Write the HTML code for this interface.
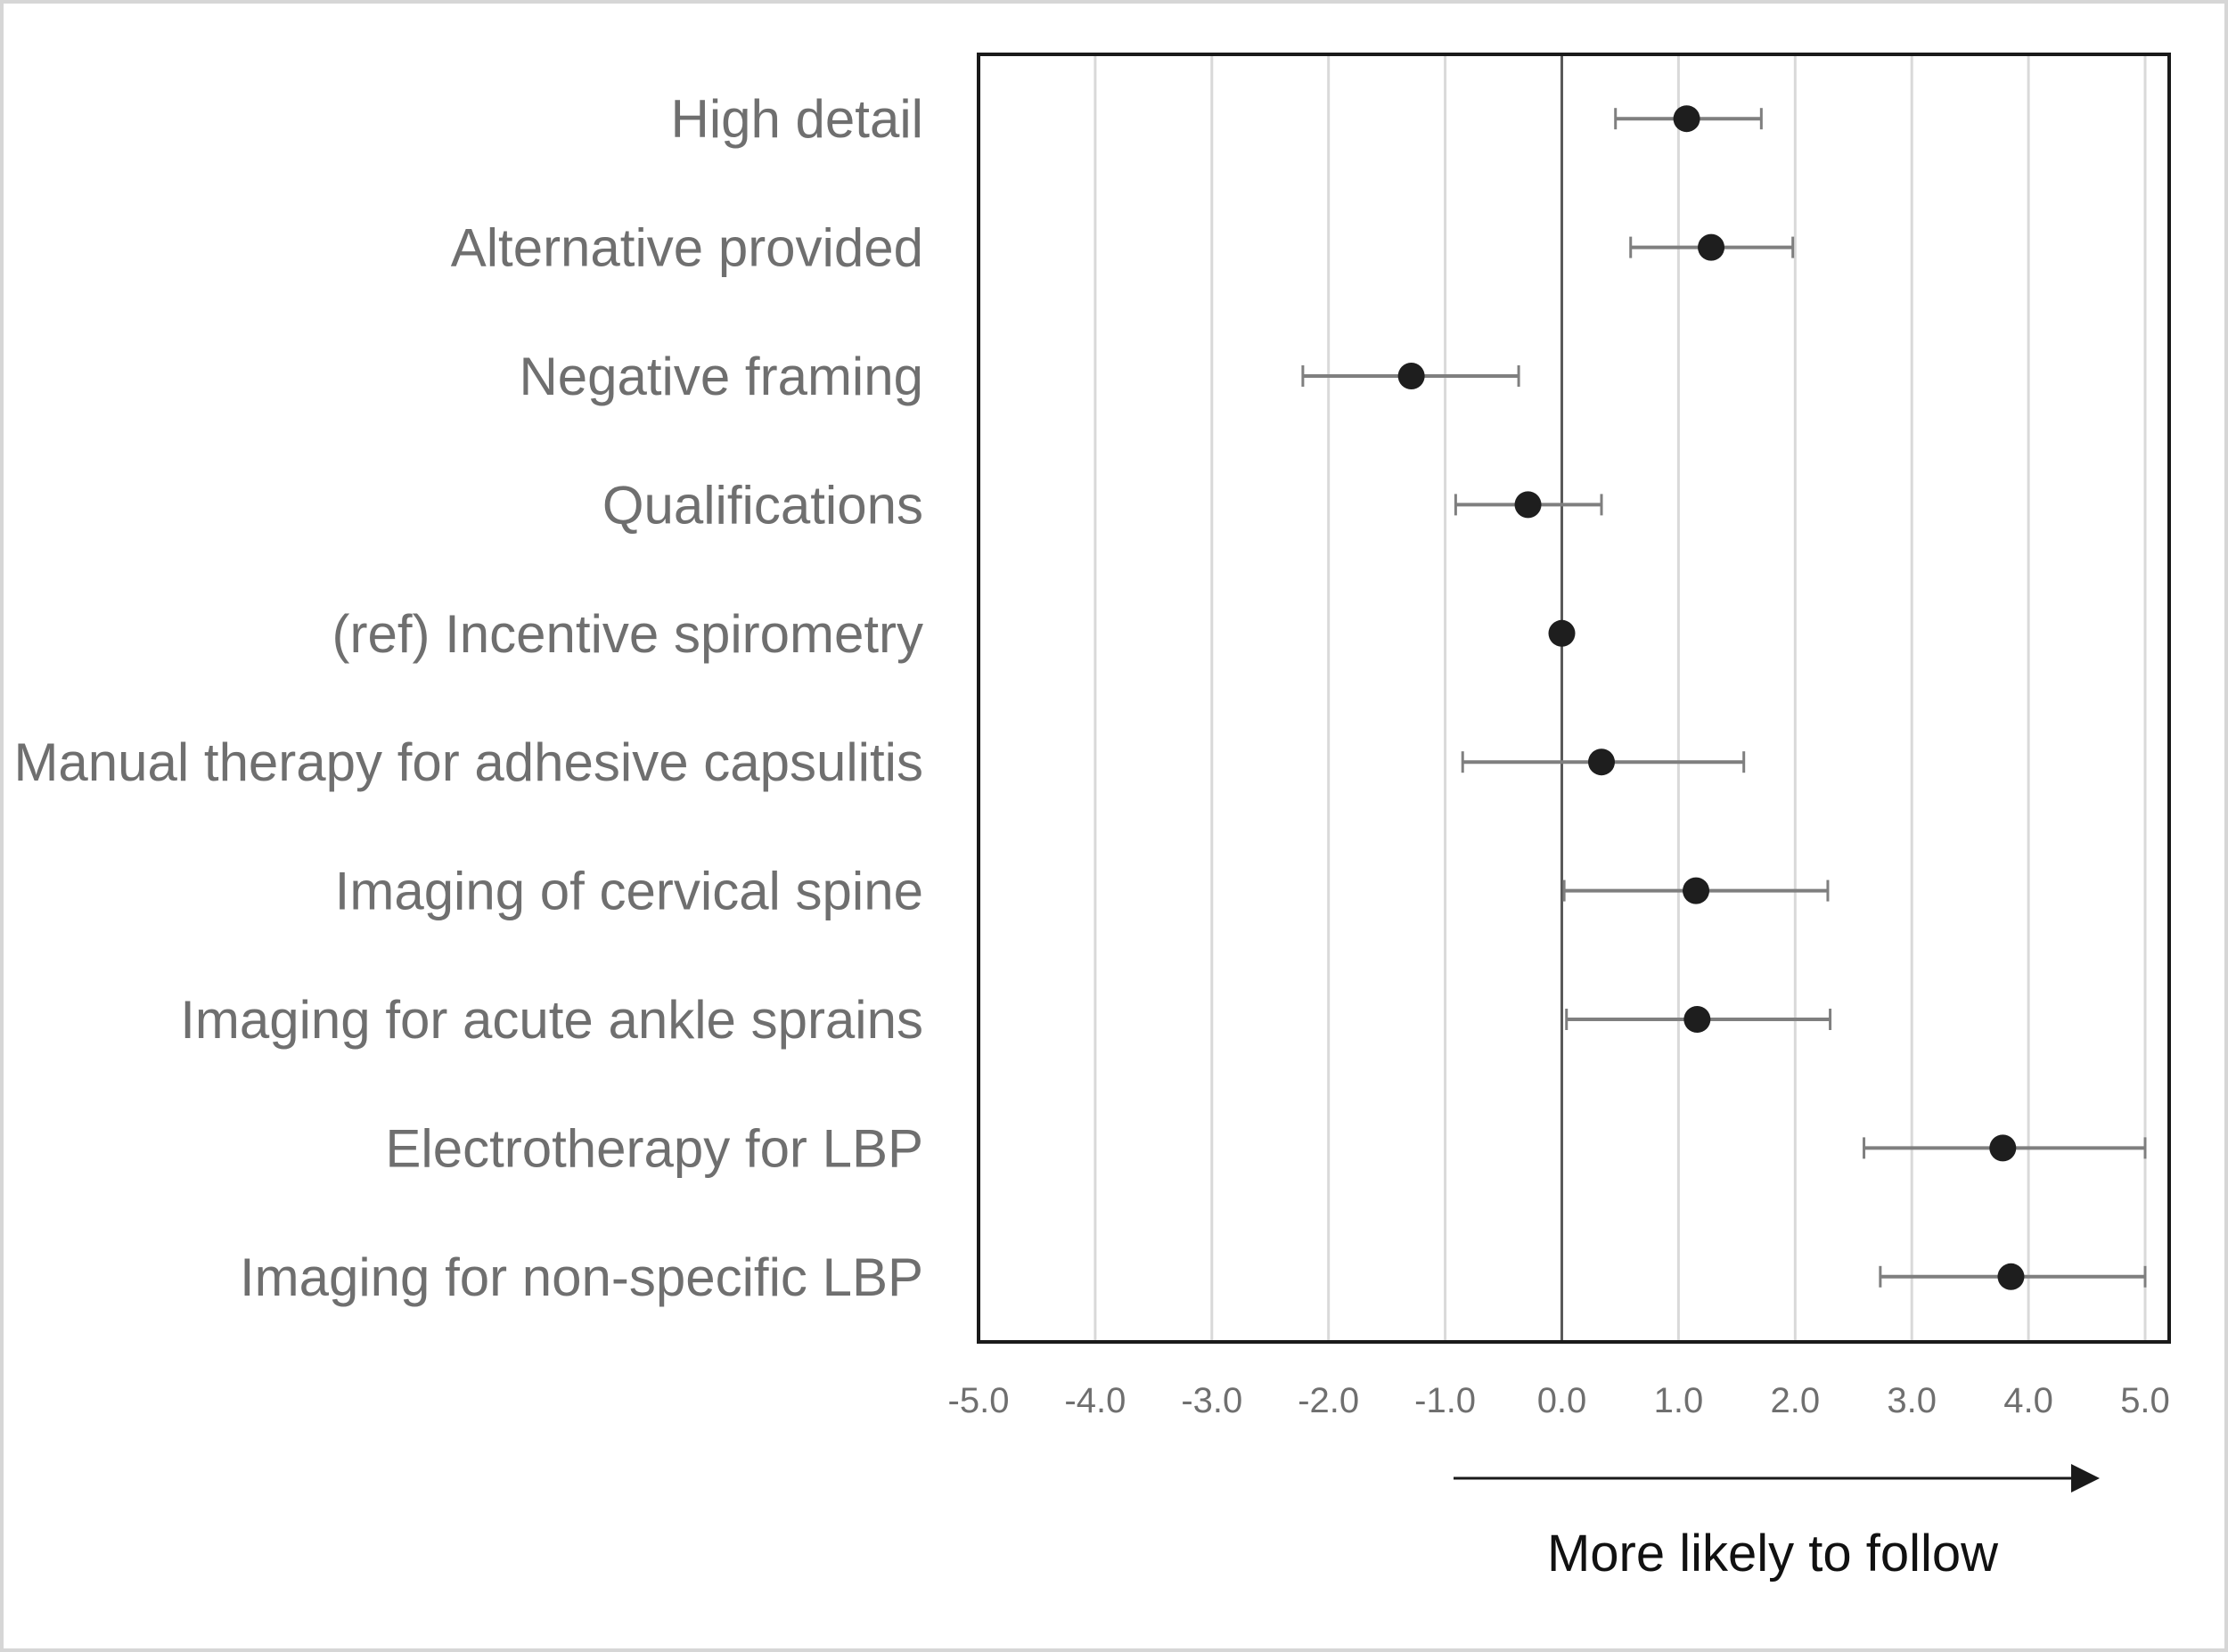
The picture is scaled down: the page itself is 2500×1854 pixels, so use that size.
<!DOCTYPE html>
<html><head><meta charset="utf-8"><style>
html,body{margin:0;padding:0;background:#fff;}
svg{display:block;}
</style></head><body>
<svg id="chart" width="2500" height="1854" xmlns="http://www.w3.org/2000/svg">
<rect x="2" y="2" width="2496" height="1850" fill="#fff" stroke="#d6d6d6" stroke-width="4"/>
<g id="grid"></g>
<g id="bars"></g>
<rect x="1098" y="61" width="1336" height="1445" fill="none" stroke="#1a1a1a" stroke-width="4"/>
<g id="labels"></g>
<g id="ticks"></g>
<line x1="1631" y1="1659" x2="2326" y2="1659" stroke="#1a1a1a" stroke-width="3"/>
<polygon points="2324,1643 2356,1659 2324,1675" fill="#1a1a1a"/>
<text x="1989" y="1763" font-family="'Liberation Sans', sans-serif" font-size="58" fill="#111" text-anchor="middle">More likely to follow</text>
</svg>
<script>
const categories = ["High detail","Alternative provided","Negative framing","Qualifications","(ref) Incentive spirometry","Manual therapy for adhesive capsulitis","Imaging of cervical spine","Imaging for acute ankle sprains","Electrotherapy for LBP","Imaging for non-specific LBP"];
const estimates = [1.07,1.28,-1.29,-0.29,0,0.34,1.15,1.16,3.78,3.85];
const lower = [0.46,0.59,-2.22,-0.91,null,-0.85,0.02,0.04,2.59,2.73];
const upper = [1.71,1.98,-0.37,0.34,null,1.56,2.28,2.30,5.0,5.0];
const tickValues = [-5,-4,-3,-2,-1,0,1,2,3,4,5];
const tickLabels = ["-5.0","-4.0","-3.0","-2.0","-1.0","0.0","1.0","2.0","3.0","4.0","5.0"];

const NS="http://www.w3.org/2000/svg";
const xScale = v => 1098 + (v + 5) * 130.9;
const plotTop = 61, rowH = 144.4;
const yScale = i => plotTop + rowH * (i + 0.5);
function mk(tag, attrs, parent){const e=document.createElementNS(NS,tag);for(const k in attrs)e.setAttribute(k,attrs[k]);parent.appendChild(e);return e;}
const grid=document.getElementById('grid'), bars=document.getElementById('bars'), labels=document.getElementById('labels'), ticks=document.getElementById('ticks');
tickValues.forEach((t,i)=>{
  const x=xScale(t);
  if(t!==0 && t!==-5){
    const g=mk('line',{x1:x,y1:61,x2:x,y2:1506,stroke:'#d9d9d9','stroke-width':3},grid);
    
    
  }
  const tl=mk('text',{x:x,y:1585,'text-anchor':'middle','font-family':"'Liberation Sans', sans-serif",'font-size':40,fill:'#6f6f6f'},ticks);
  tl.textContent=tickLabels[i];
  
  
});
const z=mk('line',{x1:xScale(0),y1:61,x2:xScale(0),y2:1506,stroke:'#595959','stroke-width':3},grid);


categories.forEach((c,i)=>{
  const y=yScale(i);
  const lb=mk('text',{x:1036,y:y+21,'text-anchor':'end','font-family':"'Liberation Sans', sans-serif",'font-size':60,fill:'#6f6f6f'},labels);
  lb.textContent=c;
  
  
  if(lower[i]!==null){
    const x1=xScale(lower[i]), x2=xScale(upper[i]);
    const e=mk('line',{x1:x1,y1:y,x2:x2,y2:y,stroke:'#7f7f7f','stroke-width':4},bars);
    
    
    [x1,x2].forEach(xx=>{
      const cap=mk('line',{x1:xx,y1:y-12,x2:xx,y2:y+12,stroke:'#7f7f7f','stroke-width':3},bars);
      
      
    });
  }
  const p=mk('circle',{cx:xScale(estimates[i]),cy:y,r:15,fill:'#1e1e1e'},bars);
  
  
});
</script>
</body></html>
